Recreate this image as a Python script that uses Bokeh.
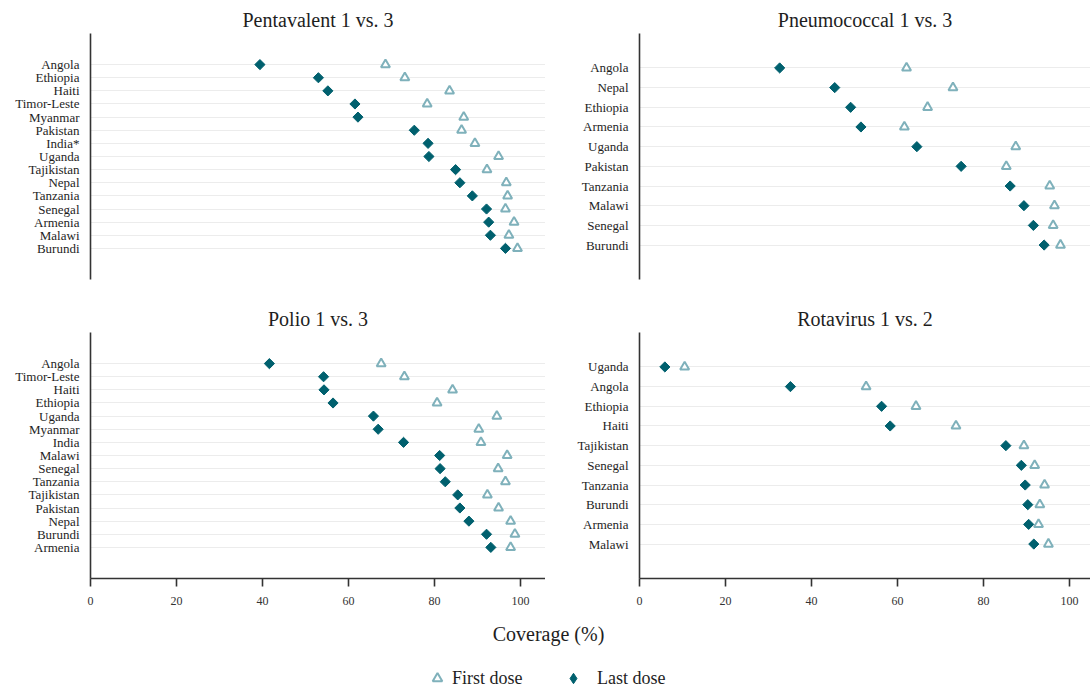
import math
from bokeh.plotting import figure
from bokeh.layouts import column, row
from bokeh.models import FactorRange, Range1d, Legend, LegendItem, Label, FixedTicker
from bokeh.embed import file_html
from bokeh.resources import INLINE

FONT = "Liberation Serif"
FIRST_COLOR = "#7fb1bb"
LAST_COLOR = "#00606e"
AXIS_COLOR = "#333333"
GRID_COLOR = "#ececec"
TEXT_COLOR = "#1e1e1e"

# ---------------- data ----------------
penta_countries = ["Angola", "Ethiopia", "Haiti", "Timor-Leste", "Myanmar", "Pakistan", "India*",
                   "Uganda", "Tajikistan", "Nepal", "Tanzania", "Senegal", "Armenia", "Malawi", "Burundi"]
penta_first = [68.6, 73.1, 83.5, 78.3, 86.8, 86.3, 89.4, 94.9, 92.2, 96.7, 97.0, 96.5, 98.5, 97.3, 99.3]
penta_last = [39.4, 53.0, 55.2, 61.5, 62.2, 75.3, 78.5, 78.7, 84.9, 85.9, 88.8, 92.1, 92.6, 93.0, 96.5]

pneumo_countries = ["Angola", "Nepal", "Ethiopia", "Armenia", "Uganda", "Pakistan", "Tanzania",
                    "Malawi", "Senegal", "Burundi"]
pneumo_first = [62.1, 72.9, 67.0, 61.6, 87.5, 85.3, 95.4, 96.5, 96.2, 97.9]
pneumo_last = [32.6, 45.4, 49.1, 51.5, 64.5, 74.8, 86.2, 89.4, 91.6, 94.1]

polio_countries = ["Angola", "Timor-Leste", "Haiti", "Ethiopia", "Uganda", "Myanmar", "India",
                   "Malawi", "Senegal", "Tanzania", "Tajikistan", "Pakistan", "Nepal", "Burundi", "Armenia"]
polio_first = [67.6, 73.0, 84.2, 80.6, 94.5, 90.3, 90.8, 96.9, 94.8, 96.5, 92.3, 94.9, 97.7, 98.7, 97.7]
polio_last = [41.6, 54.2, 54.3, 56.4, 65.8, 66.9, 72.8, 81.2, 81.3, 82.5, 85.4, 85.9, 88.0, 92.1, 93.1]

rota_countries = ["Uganda", "Angola", "Ethiopia", "Haiti", "Tajikistan", "Senegal", "Tanzania",
                  "Burundi", "Armenia", "Malawi"]
rota_first = [10.5, 52.7, 64.3, 73.6, 89.4, 91.9, 94.2, 93.1, 92.8, 95.1]
rota_last = [5.9, 35.1, 56.3, 58.3, 85.2, 88.8, 89.7, 90.3, 90.5, 91.7]

x_ticks = [0, 20, 40, 60, 80, 100]
x_label = "Coverage (%)"
legend_labels = ["First dose", "Last dose"]

PX_PER_UNIT = 4.3


def make_panel(title, countries, first, last, width, height, border_left, border_top,
               border_bottom, frame_width, pad, show_x):
    p = figure(width=width, height=height, output_backend="svg", toolbar_location=None,
               x_range=Range1d(0, frame_width / PX_PER_UNIT),
               y_range=FactorRange(factors=list(reversed(countries)), range_padding=pad,
                                   range_padding_units="absolute"),
               min_border_left=border_left, min_border_right=0,
               min_border_top=border_top, min_border_bottom=border_bottom)
    p.outline_line_color = None
    p.background_fill_color = "white"
    p.border_fill_color = "white"
    p.title.text = title
    p.title.align = "center"
    p.title.text_font = FONT
    p.title.text_font_size = "20px"
    p.title.text_font_style = "normal"
    p.title.text_color = TEXT_COLOR
    p.title.standoff = 6

    p.xgrid.visible = False
    p.ygrid.grid_line_color = GRID_COLOR
    p.ygrid.grid_line_width = 1

    ya = p.yaxis[0]
    ya.axis_line_color = AXIS_COLOR
    ya.axis_line_width = 1.6
    ya.major_tick_line_color = None
    ya.major_tick_out = 0
    ya.major_tick_in = 0
    ya.minor_tick_line_color = None
    ya.major_label_standoff = 11
    ya.major_label_text_font = FONT
    ya.major_label_text_font_size = "13px"
    ya.major_label_text_color = TEXT_COLOR

    xa = p.xaxis[0]
    if show_x:
        xa.ticker = FixedTicker(ticks=x_ticks)
        xa.axis_line_color = AXIS_COLOR
        xa.axis_line_width = 1.6
        xa.major_tick_line_color = AXIS_COLOR
        xa.major_tick_line_width = 1.6
        xa.major_tick_out = 8
        xa.major_tick_in = 0
        xa.minor_tick_line_color = None
        xa.major_label_standoff = 10
        xa.major_label_text_font = FONT
        xa.major_label_text_font_size = "12px"
        xa.major_label_text_color = "#333333"
    else:
        xa.visible = False

    p.scatter(x=first, y=countries, marker="triangle", size=9, line_color=FIRST_COLOR,
              line_width=2, fill_color="white")
    p.scatter(x=last, y=countries, marker="square", angle=math.pi / 4, size=7.2,
              fill_color=LAST_COLOR, line_color=LAST_COLOR, line_width=1)
    return p


LEFT_W = 545
RIGHT_W = 545
TOP_H = 289
BOT_H = 329
STRIP_H = 70

p1 = make_panel("Pentavalent 1 vs. 3", penta_countries, penta_first, penta_last,
                LEFT_W, TOP_H, 90, 33, 10, 455, 1.87, False)
p2 = make_panel("Pneumococcal 1 vs. 3", pneumo_countries, pneumo_first, pneumo_last,
                RIGHT_W, TOP_H, 94, 33, 10, 451, 1.25, False)
p3 = make_panel("Polio 1 vs. 3", polio_countries, polio_first, polio_last,
                LEFT_W, BOT_H, 90, 43, 40, 455, 1.87, True)
p4 = make_panel("Rotavirus 1 vs. 2", rota_countries, rota_first, rota_last,
                RIGHT_W, BOT_H, 94, 43, 40, 451, 1.25, True)

# bottom strip: shared x label and legend
pb = figure(width=LEFT_W + RIGHT_W, height=STRIP_H, output_backend="svg", toolbar_location=None,
            x_range=Range1d(0, 1), y_range=Range1d(0, 1), x_axis_type=None, y_axis_type=None,
            min_border=0)
pb.outline_line_color = None
pb.xgrid.visible = False
pb.ygrid.visible = False

pb.add_layout(Label(x=548, y=55, x_units="screen", y_units="screen", text=x_label,
                    text_font=FONT, text_font_size="20px", text_color=TEXT_COLOR,
                    text_align="center", text_baseline="middle"))

nan = float("nan")
r_first = pb.scatter(x=[nan], y=[nan], marker="triangle", line_color=FIRST_COLOR, line_width=2,
                     fill_color="white")
r_last = pb.scatter(x=[nan], y=[nan], marker="diamond",
                    fill_color=LAST_COLOR, line_color=LAST_COLOR, line_width=1)


def make_legend(label, renderer, glyph, standoff, loc):
    lg = Legend(items=[LegendItem(label=label, renderers=[renderer], index=0)], location=loc,
                orientation="horizontal", glyph_width=glyph, glyph_height=glyph,
                label_text_font=FONT, label_text_font_size="18px", label_text_color=TEXT_COLOR,
                label_standoff=standoff, label_height=20, padding=0, margin=0, spacing=0,
                border_line_color=None, background_fill_alpha=0)
    pb.add_layout(lg, "center")


make_legend(legend_labels[0], r_first, 24, 3, (425, -2))
make_legend(legend_labels[1], r_last, 26, 11, (560, -3))

layout = column(row(p1, p2), row(p3, p4), pb)

open("out.html", "w").write(file_html(layout, INLINE))
